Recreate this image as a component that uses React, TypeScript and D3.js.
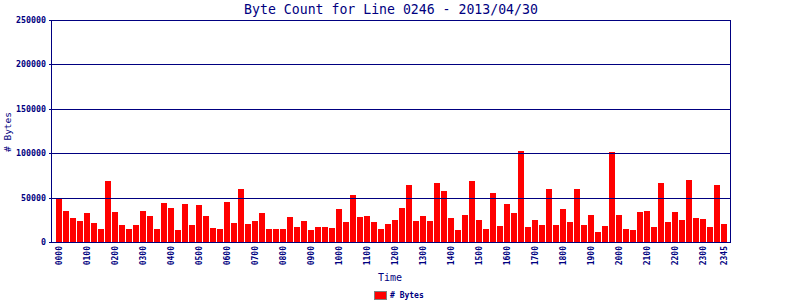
import React from "react";
import * as d3 from "d3";

const title = "Byte Count for Line 0246 - 2013/04/30";
const seriesName = "# Bytes";
const xTitle = "Time";

const hours = d3.range(24).map((h) => String(h).padStart(2, "0"));
const slots = hours.flatMap((h) => ["00", "15", "30", "45"].map((m) => h + m));

const bytes = [
  49500, 35200, 27300, 23200, 33000, 21700, 15000, 68900,
  34000, 19400, 15000, 19400, 35200, 29600, 15000, 44200,
  38600, 13800, 43000, 19400, 41900, 29600, 16100, 15000,
  45300, 21700, 59900, 20600, 23900, 33000, 15000, 15000,
  15000, 28400, 17200, 23900, 13800, 17200, 17200, 16100,
  37400, 22800, 53200, 28400, 29600, 22800, 15000, 20600,
  25100, 38600, 64400, 23900, 29600, 23900, 66700, 57700,
  27300, 13800, 30700, 68900, 25100, 15000, 55400, 18300,
  43000, 33000, 102600, 17200, 25100, 19400, 59900, 19400,
  37400, 22800, 59900, 19400, 30700, 11600, 18300, 101500,
  30700, 15000, 13800, 34000, 35200, 17200, 66700, 22800,
  34000, 25100, 70000, 27300, 26200, 17200, 64400, 20600,
];

const yTicks = [0, 50000, 100000, 150000, 200000, 250000];
const xTickSlots = [...hours.map((h) => h + "00"), "2345"];

const NAVY = "#000080";
const MONO = "'DejaVu Sans Mono', monospace";

export default function App() {
  const W = 800, H = 300;
  const left = 52, right = 730, top = 20, bottom = 242;
  const x = d3.scaleBand<string>().domain(slots).range([55.5, 727.5]).paddingInner(1 / 7).paddingOuter(1 / 14);
  const y = d3.scaleLinear().domain([0, 250000]).range([bottom, top]);

  return (
    <svg width={W} height={H} style={{ position: "absolute", left: 0, top: 0, background: "#fff" }} shapeRendering="crispEdges">
      <rect x={0} y={0} width={W} height={H} fill="#fff" />
      <text x={391} y={14} textAnchor="middle" fontFamily={MONO} fontSize={13.2} fill={NAVY}>{title}</text>
      {slots.map((s, i) => (
        <rect key={s} x={Math.round(x(s)!)} y={Math.round(y(bytes[i]))} width={6} height={bottom - Math.round(y(bytes[i]))} fill="#ff0000" />
      ))}
      {yTicks.map((t) => (
        <g key={t}>
          <line x1={49} x2={right} y1={Math.round(y(t)) + 0.5} y2={Math.round(y(t)) + 0.5} stroke={NAVY} strokeWidth={1} />
          <text x={46} y={Math.round(y(t)) + 3} textAnchor="end" fontFamily={MONO} fontSize={8.3} fontWeight="bold" fill={NAVY}>{t}</text>
        </g>
      ))}
      <line x1={left - 0.5} x2={left - 0.5} y1={top} y2={bottom + 1} stroke={NAVY} strokeWidth={1.5} />
      <line x1={right + 0.5} x2={right + 0.5} y1={top} y2={bottom + 1} stroke={NAVY} strokeWidth={1} />
      {xTickSlots.map((s) => {
        const cx = x(s)! + x.bandwidth() / 2;
        return (
          <text key={s} transform={`translate(${cx + 3},${246}) rotate(-90)`} textAnchor="end" fontFamily={MONO} fontSize={8} fontWeight="bold" fill={NAVY}>{s}</text>
        );
      })}
      <text transform={`translate(11,132) rotate(-90)`} textAnchor="middle" fontFamily={MONO} fontSize={9.5} fill={NAVY}>{seriesName}</text>
      <text x={390} y={281} textAnchor="middle" fontFamily={MONO} fontSize={10} fill={NAVY}>{xTitle}</text>
      <rect x={374.5} y={291.5} width={12} height={8} fill="#ff0000" stroke="#808080" strokeWidth={1} />
      <text x={390} y={298} fontFamily={MONO} fontSize={8} fontWeight="bold" fill={NAVY}>{seriesName}</text>
    </svg>
  );
}
